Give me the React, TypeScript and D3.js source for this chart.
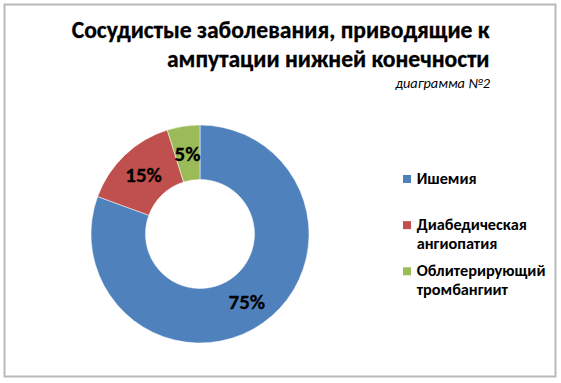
import React from "react";
import * as d3 from "d3";

const categories = ["Ишемия", "Диабедическая ангиопатия", "Облитерирующий тромбангиит"];
const legendLines = [["Ишемия"], ["Диабедическая", "ангиопатия"], ["Облитерирующий", "тромбангиит"]];
const sliceValues = [83, 15, 5];
const labelTexts = ["75%", "15%", "5%"];
const colors = ["#4F81BD", "#C0504D", "#9BBB59"];
const titleLines = ["Сосудистые заболевания, приводящие к", "ампутации нижней конечности"];
const subtitle = "диаграмма №2";

const W = 561;
const H = 383;
const FONT = "Carlito, Calibri, Lato, 'Open Sans', sans-serif";

export default function App() {
  const cx = 200;
  const cy = 234;
  const outerR = 109;
  const innerR = 54.5;
  const pie = d3.pie<number>().sort(null).startAngle(0).endAngle(2 * Math.PI);
  const arcs = pie(sliceValues);
  const arcGen = d3.arc<d3.PieArcDatum<number>>().innerRadius(innerR).outerRadius(outerR);

  const legendY = d3.scalePoint<string>().domain(categories).range([175, 267.3]);

  return (
    <svg width={W} height={H} style={{ position: "absolute", left: 0, top: 0 }}>
      <rect x={0} y={0} width={W} height={H} fill="#fff" />
      <rect x={4.5} y={4.5} width={551} height={372} fill="#fff" stroke="#b9b9b9" strokeWidth={2} />
      <g fontFamily={FONT} fontWeight="bold" fill="#000" textAnchor="end" stroke="#000" strokeWidth={0.3}>
        <text x={489.5} y={38.3} fontSize={23.6}>{titleLines[0]}</text>
        <text x={489.5} y={66.7} fontSize={23.6}>{titleLines[1]}</text>
      </g>
      <text x={490} y={88.3} fontFamily={FONT} fontStyle="italic" fontSize={14.3} textAnchor="end">{subtitle}</text>
      <g transform={`translate(${cx},${cy})`}>
        {arcs.map((a, i) => (
          <path key={i} d={arcGen(a) || ""} fill={colors[i]} stroke="#fff" strokeWidth={0.5} />
        ))}
        {arcs.map((a, i) => {
          const [x, y] = arcGen.centroid(a);
          return (
            <text key={i} x={x} y={y} dy="0.36em" textAnchor="middle" fontFamily={FONT} fontWeight="bold" fontSize={21} stroke="#000" strokeWidth={0.3}>
              {labelTexts[i]}
            </text>
          );
        })}
      </g>
      <g fontFamily={FONT} fontWeight="bold" fontSize={16.3}>
        {categories.map((c, i) => {
          const y = legendY(c) as number;
          return (
            <g key={c}>
              <rect x={403} y={y} width={8} height={8} fill={colors[i]} />
              {legendLines[i].map((ln, j) => (
                <text key={j} x={416.7} y={y + 9 + j * 19}>{ln}</text>
              ))}
            </g>
          );
        })}
      </g>
    </svg>
  );
}
